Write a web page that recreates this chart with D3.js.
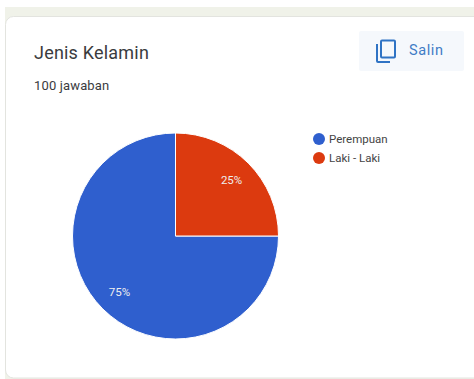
<!DOCTYPE html>
<html>
<head>
<meta charset="utf-8">
<script src="https://cdn.jsdelivr.net/npm/d3@7/dist/d3.min.js"></script>
<style>
html,body{margin:0;padding:0;background:#fff;}
svg{display:block;font-family:Roboto,Arial,sans-serif;}
</style>
</head>
<body>
<svg id="chart" width="474" height="379"></svg>
<script>
const categories = ["Perempuan", "Laki - Laki"];
const percentages = [75, 25];
const sliceColors = ["#2f5fce", "#dc3a0f"];
const title = "Jenis Kelamin";
const responses = "100 jawaban";
const copyLabel = "Salin";

const svg = d3.select("#chart");

// Page backdrop strip and the rounded response card
svg.append("rect").attr("x", 0).attr("y", 7).attr("width", 474).attr("height", 372).attr("fill", "#f0f2e9");
svg.append("rect").attr("x", 0).attr("y", 0).attr("width", 474).attr("height", 7).attr("fill", "#ffffff");
svg.append("rect").attr("x", 0).attr("y", 7).attr("width", 5).attr("height", 372).attr("fill", "#ffffff");
svg.append("rect")
  .attr("x", 5.5).attr("y", 16.5).attr("width", 490).attr("height", 361.5).attr("rx", 8)
  .attr("fill", "#fff").attr("stroke", "#e3e4df");

svg.append("text").attr("x", 34).attr("y", 58.5).attr("font-size", 18).attr("letter-spacing", 0.2).attr("fill", "#3a3b3e").text(title);
svg.append("text").attr("x", 34).attr("y", 90).attr("font-size", 13).attr("letter-spacing", 0.15).attr("fill", "#3a3b3e").text(responses);

// Copy button with its two-page icon
svg.append("rect").attr("x", 359).attr("y", 31).attr("width", 105).attr("height", 40).attr("rx", 2).attr("fill", "#f5f8fc");
const icon = svg.append("g").attr("fill", "none").attr("stroke", "#2f73c4").attr("stroke-width", 2);
icon.append("rect").attr("x", 381).attr("y", 40.5).attr("width", 14).attr("height", 17).attr("rx", 1);
icon.append("path").attr("d", "M377 44V61a1 1 0 0 0 1 1H390");
svg.append("text").attr("x", 409).attr("y", 55).attr("font-size", 14.5).attr("font-weight", 400)
  .attr("letter-spacing", 0.6).attr("fill", "#3f7cc6").text(copyLabel);

// Pie starts at twelve o'clock and runs clockwise with the smaller slice first
const cx = 175.5, cy = 236, radius = 103;
const rows = categories.map((name, i) => ({name, value: percentages[i], color: sliceColors[i]}));
const pie = d3.pie().value(d => d.value).sort(null).startAngle(Math.PI / 2).endAngle(Math.PI * 2.5);
const arc = d3.arc().innerRadius(0).outerRadius(radius);
const labelArc = d3.arc().innerRadius(radius * 0.77).outerRadius(radius * 0.77);

const slices = svg.append("g").attr("transform", `translate(${cx},${cy})`);
slices.selectAll("path").data(pie(rows)).join("path")
  .attr("d", arc).attr("fill", d => d.data.color).attr("stroke", "#fff").attr("stroke-width", 1);
slices.selectAll("text").data(pie(rows)).join("text")
  .attr("transform", d => `translate(${labelArc.centroid(d)})`)
  .attr("text-anchor", "middle").attr("dy", "0.35em")
  .attr("font-size", 11.5).attr("fill", "#eeeeee")
  .text(d => d.data.value + "%");

// Legend
const legendY = d3.scalePoint().domain(categories).range([139, 158]);
const legend = svg.append("g").selectAll("g").data(rows).join("g")
  .attr("transform", d => `translate(319,${legendY(d.name)})`);
legend.append("circle").attr("r", 6).attr("fill", d => d.color);
legend.append("text").attr("x", 10).attr("dy", "0.35em").attr("font-size", 11.5).attr("fill", "#444444").text(d => d.name);
</script>
</body>
</html>
